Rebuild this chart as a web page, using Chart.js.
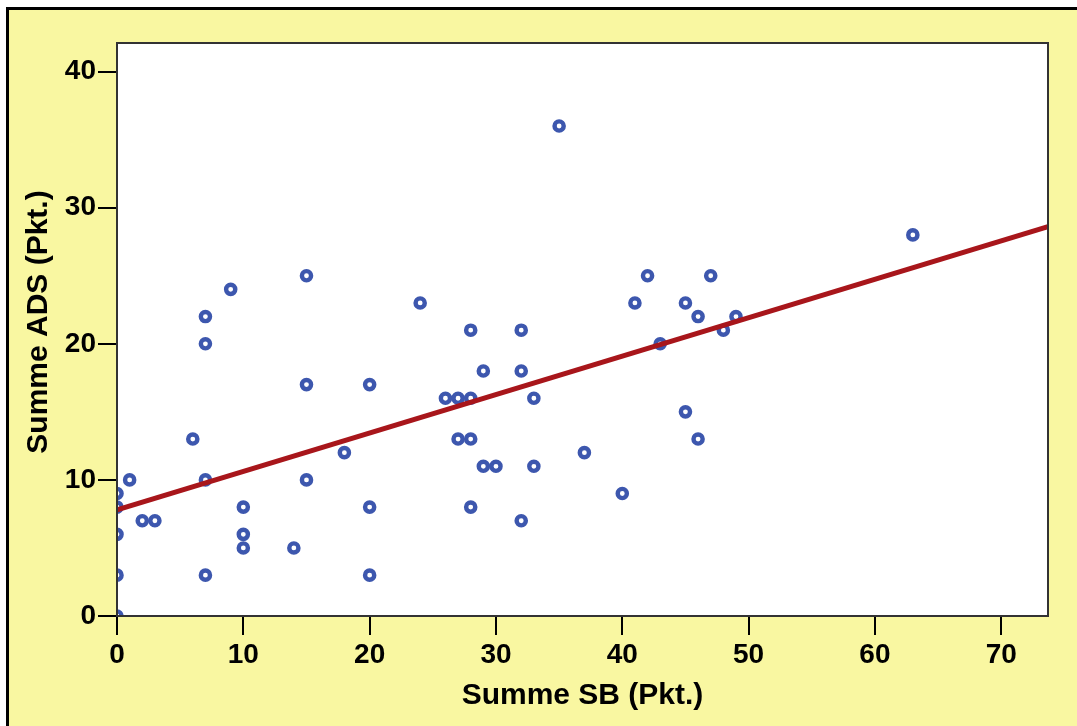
<!DOCTYPE html>
<html>
<head>
<meta charset="utf-8">
<script src="https://cdn.jsdelivr.net/npm/chart.js@4/dist/chart.umd.min.js"></script>
<style>
	html, body { margin: 0; padding: 0; background: #fff; }
	#wrap { width: 1077px; height: 726px; }
</style>
</head>
<body>
<div id="wrap"><canvas id="scatter"></canvas></div>
<script>
	// Summe SB (x) vs Summe ADS (y)
	let sbValues  = [0, 0, 0, 0, 0, 1, 2, 3, 6, 7, 7, 7, 7, 9, 10, 10, 10, 14, 15, 15, 15, 18, 20, 20, 20, 24,
		26, 27, 28, 27, 28, 28, 28, 29, 29, 30, 32, 32, 32, 33, 33, 35, 37, 40, 41, 42, 43, 45, 45, 46, 46, 47, 48, 49, 63];
	let adsValues = [0, 3, 6, 8, 9, 10, 7, 7, 13, 22, 20, 10, 3, 24, 8, 6, 5, 5, 25, 17, 10, 12, 17, 8, 3, 23,
		16, 16, 16, 13, 13, 21, 8, 18, 11, 11, 21, 18, 7, 16, 11, 36, 12, 9, 23, 25, 20, 23, 15, 22, 13, 25, 21, 22, 28];
	// regression line end points
	let fitX = [0, 73.7];
	let fitY = [7.8, 28.6];
	let xTicks = [0, 10, 20, 30, 40, 50, 60, 70];
	let yTicks = [0, 10, 20, 30, 40];
	let xTitle = 'Summe SB (Pkt.)';
	let yTitle = 'Summe ADS (Pkt.)';

	const tickFont = { family: '"Liberation Sans", Arial, sans-serif', size: 28, weight: 'bold' };
	const titleFont = { family: '"Liberation Sans", Arial, sans-serif', size: 30, weight: 'bold' };

	const frame = {
		id: 'frame',
		beforeDraw(chart) {
			const c = chart.ctx, a = chart.chartArea;
			c.save();
			c.fillStyle = '#fff';
			c.fillRect(0, 0, chart.width, chart.height);
			c.fillStyle = '#F9F7A1';
			c.fillRect(9, 10, chart.width - 9, chart.height - 10);
			c.fillStyle = '#000';
			c.fillRect(6, 7, 3, chart.height - 7);
			c.fillRect(6, 7, chart.width - 6, 3);
			c.fillStyle = '#fff';
			c.fillRect(a.left, a.top, a.right - a.left, a.bottom - a.top);
			c.restore();
		},
		afterDatasetsDraw(chart) {
			const c = chart.ctx, a = chart.chartArea;
			c.save();
			c.strokeStyle = '#333';
			c.lineWidth = 2;
			c.strokeRect(a.left, a.top, a.right - a.left, a.bottom - a.top);
			c.restore();
		},
		afterDraw(chart) {
			// y title is not centred on the axis in the original
			const c = chart.ctx;
			c.save();
			c.translate(39, 322);
			c.rotate(-Math.PI / 2);
			c.font = 'bold 30px "Liberation Sans", Arial, sans-serif';
			c.fillStyle = '#000';
			c.textAlign = 'center';
			c.textBaseline = 'middle';
			c.fillText(yTitle, 0, 0);
			c.restore();
		}
	};

	new Chart(
		document.getElementById('scatter'),
		{
			type: 'scatter',
			data: {
				datasets: [
					{
						type: 'line',
						data: fitX.map((x, i) => ({ x: x, y: fitY[i] })),
						borderColor: '#A8161B',
						borderWidth: 5,
						pointRadius: 0,
						fill: false,
						order: 0,
						clip: 0
					},
					{
						data: sbValues.map((x, i) => ({ x: x, y: adsValues[i] })),
						pointRadius: 4.6,
						pointHoverRadius: 4.6,
						borderWidth: 4.4,
						pointBorderWidth: 4.4,
						pointHoverBorderWidth: 4.4,
						borderColor: '#3D57AE',
						pointBorderColor: '#3D57AE',
						backgroundColor: '#fff',
						pointBackgroundColor: '#fff',
						order: 1,
						clip: 0
					}
				]
			},
			options: {
				responsive: true,
				maintainAspectRatio: false,
				animation: false,
				layout: { padding: { left: 0, top: 43, right: 29, bottom: 0 } },
				plugins: { legend: { display: false }, tooltip: { enabled: false } },
				scales: {
					x: {
						type: 'linear',
						min: 0,
						max: 73.7,
						afterBuildTicks: s => { s.ticks = xTicks.map(v => ({ value: v })); },
						afterFit: s => { s.height = 110; },
						grid: { drawOnChartArea: false, tickLength: 19, color: '#000', lineWidth: 2 },
						border: { display: false },
						ticks: { color: '#000', font: tickFont, padding: 3, maxRotation: 0 },
						title: { display: true, text: xTitle, color: '#000', font: titleFont, padding: { top: 0, bottom: 12 } }
					},
					y: {
						type: 'linear',
						min: 0,
						max: 42.1,
						afterBuildTicks: s => { s.ticks = yTicks.map(v => ({ value: v })); },
						afterFit: s => { s.width = 117; },
						grid: { drawOnChartArea: false, tickLength: 19, color: '#000', lineWidth: 2 },
						border: { display: false },
						ticks: { color: '#000', font: tickFont, padding: 2 },
						title: { display: false }
					}
				}
			},
			plugins: [frame]
		}
	);
</script>
</body>
</html>
